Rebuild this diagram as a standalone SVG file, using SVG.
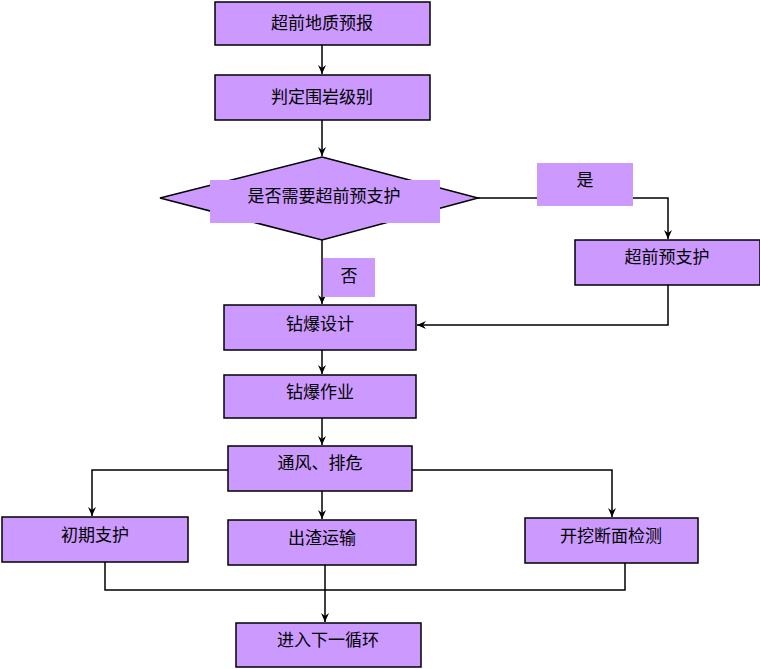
<svg xmlns="http://www.w3.org/2000/svg" width="760" height="669" viewBox="0 0 760 669">
<style>
.b{fill:#CC99FF;stroke:#000;stroke-width:1.5}
.l{fill:#CC99FF;stroke:none}
.t{font-family:"Noto Sans CJK SC",sans-serif;font-size:17px;text-anchor:middle;fill:#000}
.c{fill:none;stroke:#000;stroke-width:1.5}
</style>
<defs><marker id="a" markerWidth="10" markerHeight="10" refX="9" refY="5" orient="auto" markerUnits="userSpaceOnUse"><path d="M0,1 L9,5 L0,9 L3,5 Z" fill="#000"/></marker></defs>
<rect width="760" height="669" fill="#fff"/>
<g id="connectors">
<path class="c" d="M322,45 V74" marker-end="url(#a)"/>
<path class="c" d="M322,120 V156" marker-end="url(#a)"/>
<path class="c" d="M478,198 H668 V239" marker-end="url(#a)"/>
<path class="c" d="M322,240 V304" marker-end="url(#a)"/>
<path class="c" d="M668,285 V325 H417" marker-end="url(#a)"/>
<path class="c" d="M322,350 V374" marker-end="url(#a)"/>
<path class="c" d="M322,418 V445" marker-end="url(#a)"/>
<path class="c" d="M228,470 H92 V516" marker-end="url(#a)"/>
<path class="c" d="M412,470 H612 V517" marker-end="url(#a)"/>
<path class="c" d="M322,491 V519" marker-end="url(#a)"/>
<path class="c" d="M105,562 V590 H625 V563"/>
<path class="c" d="M325,565 V622" marker-end="url(#a)"/>
</g>
<g id="n1"><rect class="b" x="215" y="2" width="215" height="43"/><text class="t" x="322" y="29">超前地质预报</text></g>
<g id="n2"><rect class="b" x="215" y="75" width="215" height="45"/><text class="t" x="322" y="103">判定围岩级别</text></g>
<g id="n3"><polygon class="b" points="322,157 478,198 322,240 160,198"/><rect class="l" x="210" y="180" width="230" height="43"/><text class="t" x="324" y="202">是否需要超前预支护</text></g>
<g id="lyes"><rect class="l" x="537" y="163" width="96" height="43"/><text class="t" x="585" y="186">是</text></g>
<g id="n4"><rect class="b" x="575" y="240" width="185" height="45"/><text class="t" x="667" y="263">超前预支护</text></g>
<g id="lno"><rect class="l" x="323" y="258" width="52" height="39"/><text class="t" x="349" y="282">否</text></g>
<g id="n5"><rect class="b" x="224" y="305" width="192" height="45"/><text class="t" x="320" y="330">钻爆设计</text></g>
<g id="n6"><rect class="b" x="224" y="375" width="192" height="43"/><text class="t" x="320" y="398">钻爆作业</text></g>
<g id="n7"><rect class="b" x="228" y="446" width="184" height="45"/><text class="t" x="320" y="469">通风、排危</text></g>
<g id="n8"><rect class="b" x="2" y="517" width="186" height="45"/><text class="t" x="95" y="541">初期支护</text></g>
<g id="n9"><rect class="b" x="228" y="520" width="188" height="45"/><text class="t" x="322" y="544">出渣运输</text></g>
<g id="n10"><rect class="b" x="525" y="518" width="173" height="45"/><text class="t" x="611" y="542">开挖断面检测</text></g>
<g id="n11"><rect class="b" x="236" y="623" width="185" height="44"/><text class="t" x="328" y="646">进入下一循环</text></g>
</svg>
